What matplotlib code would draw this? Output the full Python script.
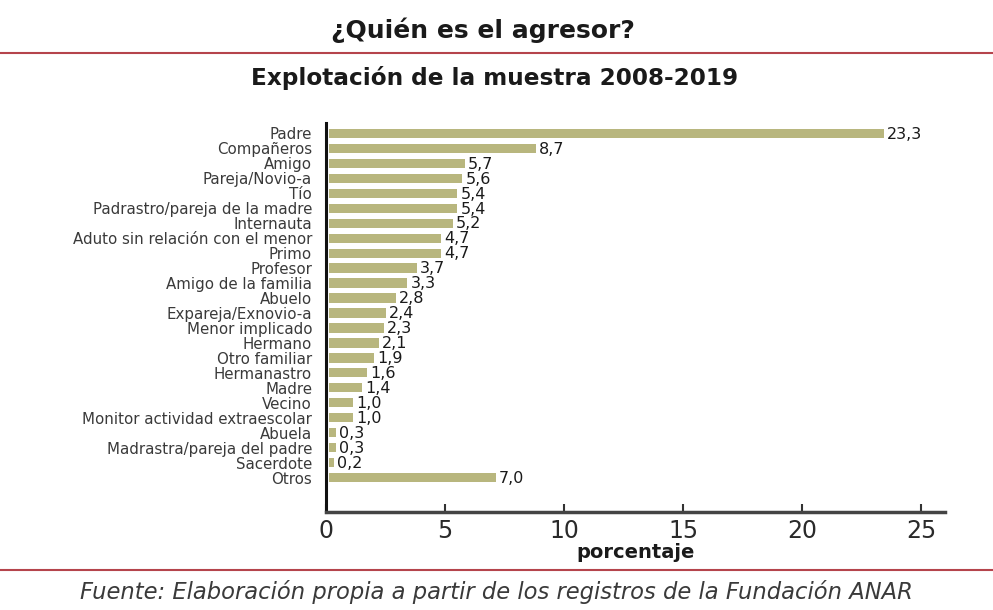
import matplotlib.pyplot as plt

categories = ['Padre', 'Compañeros', 'Amigo', 'Pareja/Novio-a', 'Tío',
              'Padrastro/pareja de la madre', 'Internauta',
              'Aduto sin relación con el menor', 'Primo', 'Profesor',
              'Amigo de la familia', 'Abuelo', 'Expareja/Exnovio-a',
              'Menor implicado', 'Hermano', 'Otro familiar', 'Hermanastro',
              'Madre', 'Vecino', 'Monitor actividad extraescolar', 'Abuela',
              'Madrastra/pareja del padre', 'Sacerdote', 'Otros']
values = [23.3, 8.7, 5.7, 5.6, 5.4, 5.4, 5.2, 4.7, 4.7, 3.7, 3.3, 2.8, 2.4,
          2.3, 2.1, 1.9, 1.6, 1.4, 1.0, 1.0, 0.3, 0.3, 0.2, 7.0]
xticks = [0, 5, 10, 15, 20, 25]

plt.rcParams['font.family'] = ['DejaVu Sans']
barcol = '#b8b67e'
redcol = '#b5444c'
txtcol = '#1a1a1a'

fig = plt.figure(figsize=(9.93, 6.10), dpi=100, facecolor='white')
ax = fig.add_axes([326 / 993, 1 - 512 / 610, (945 - 326) / 993, (512 - 123) / 610])

ypos = list(range(len(categories)))
ax.barh(ypos, values, height=0.62, color=barcol, left=0.12)
for y, v in zip(ypos, values):
    ax.text(v + 0.25, y + 0.05, f'{v:.1f}'.replace('.', ','), va='center', ha='left',
            fontsize=11.5, color=txtcol)

ax.set_yticks(ypos)
ax.set_yticklabels(categories, fontsize=10.8, color='#3a3a3a')
ax.set_ylim(25.3, -0.7)
ax.set_xlim(0, 26)
ax.set_xticks(xticks)
ax.set_xticklabels([str(t) for t in xticks], fontsize=17, color='#2a2a2a')
ax.tick_params(axis='y', length=0, pad=10)
ax.tick_params(axis='x', direction='in', length=6, width=1.5, color='#333333', pad=5)

for s in ['top', 'right']:
    ax.spines[s].set_visible(False)
ax.spines['left'].set_linewidth(2.2)
ax.spines['left'].set_color('#111111')
ax.spines['bottom'].set_linewidth(2.5)
ax.spines['bottom'].set_color('#444444')

ax.set_xlabel('porcentaje', fontsize=14, fontweight='bold', color=txtcol, labelpad=0)

fig.text(0.486, 1 - 30 / 610, '¿Quién es el agresor?', ha='center', va='center',
         fontsize=18, fontweight='bold', color=txtcol)
fig.text(0.498, 1 - 78 / 610, 'Explotación de la muestra 2008-2019', ha='center',
         va='center', fontsize=16.7, fontweight='bold', color=txtcol)
fig.text(0.5, 1 - 592 / 610,
         'Fuente: Elaboración propia a partir de los registros de la Fundación ANAR',
         ha='center', va='center', fontsize=16.3, style='italic', color='#3a3a3a')

for yl in [1 - 53 / 610, 1 - 570 / 610]:
    fig.add_artist(plt.Line2D([0, 1], [yl, yl], color=redcol, linewidth=1.5,
                              transform=fig.transFigure))

plt.savefig('out.png', dpi=100, facecolor='white')
plt.close()
